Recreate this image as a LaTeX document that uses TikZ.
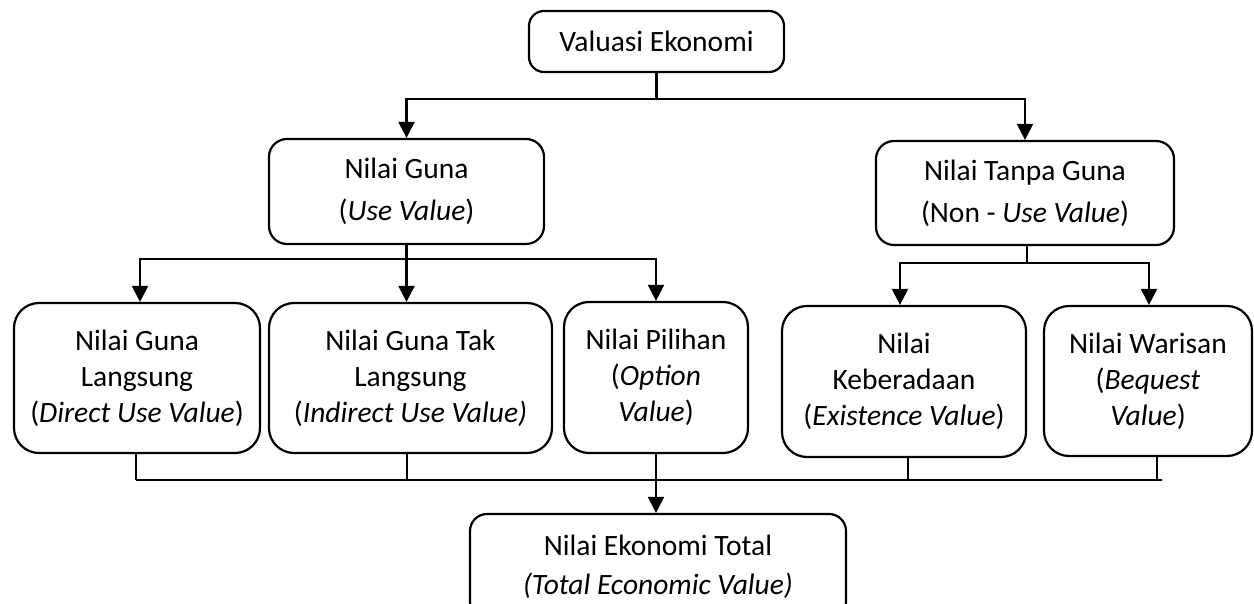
\documentclass[tikz,border=0pt]{standalone}
\usepackage{fontspec}
\setmainfont{Carlito}
\usetikzlibrary{arrows.meta}
\begin{document}
\begin{tikzpicture}[x=1pt,y=-1pt,
  box/.style={draw, line width=2.2pt, rounded corners=20pt, align=center, inner sep=0pt,
    font=\fontsize{29.5}{36}\selectfont},
  conn/.style={line width=2.2pt},
  arr/.style={line width=2.2pt, -{Triangle[width=16pt,length=16pt]}}]
\useasboundingbox (0,0) rectangle (1254,604);
\clip (0,0) rectangle (1254,604);
\fill[white] (0,0) rectangle (1254,604);
% nodes
\node[box, rounded corners=15pt, minimum width=255pt, minimum height=61pt] (top) at (656.5,41.5) {Valuasi Ekonomi};
\node[box, rounded corners=18pt, minimum width=275pt, minimum height=105pt,
  font=\fontsize{29.5}{42}\selectfont] (ng) at (406.5,191.5) {Nilai Guna\\(\textit{Use Value})};
\node[box, rounded corners=18pt, minimum width=298pt, minimum height=104pt,
  font=\fontsize{29.5}{42}\selectfont] (ntg) at (1025,193) {Nilai Tanpa Guna\\(Non - \textit{Use Value})};
\node[box, rounded corners=25pt, minimum width=246pt, minimum height=150pt] (b1) at (137,378) {Nilai Guna\\Langsung\\(\textit{Direct Use Value})};
\node[box, rounded corners=25pt, minimum width=283pt, minimum height=150pt] (b2) at (410.5,378) {Nilai Guna Tak\\Langsung\\(\textit{Indirect Use Value)}};
\node[box, rounded corners=25pt, minimum width=184pt, minimum height=151pt] (b3) at (656,377.5) {Nilai Pilihan\\(\textit{Option}\\\textit{Value})};
\node[box, rounded corners=25pt, minimum width=244pt, minimum height=151pt] (b4) at (904,381.5) {Nilai\\Keberadaan\\(\textit{Existence Value})};
\node[box, rounded corners=25pt, minimum width=208pt, minimum height=150pt] (b5) at (1148,381) {Nilai Warisan\\(\textit{Bequest}\\\textit{Value})};
\node[box, rounded corners=17pt, minimum width=376pt, minimum height=105pt,
  font=\fontsize{29.5}{39}\selectfont] (tot) at (658,566.5) {Nilai Ekonomi Total\\\textit{(Total Economic Value)}};
% junction levels
\coordinate (h1) at (0,99);
\coordinate (h2) at (0,259);
\coordinate (h3) at (0,263);
\coordinate (h4) at (0,480);
% top level
\draw[conn] (top.south) -- (top.south |- h1);
\draw[arr] (top.south |- h1) -| (ng.north);
\draw[arr] (top.south |- h1) -| (ntg.north);
% use value branch
\draw[conn] (ng.south) -- (ng.south |- h2);
\draw[arr] (ng.south |- h2) -| ([xshift=3pt]b1.north);
\draw[arr] (ng.south) -- (ng.south |- b2.north);
\draw[arr] (ng.south |- h2) -| (b3.north);
% non-use value branch
\draw[conn] ([xshift=2pt]ntg.south) -- ([xshift=2pt]ntg.south |- h3);
\draw[arr] ([xshift=2pt]ntg.south |- h3) -| ([xshift=-4pt]b4.north);
\draw[arr] ([xshift=2pt]ntg.south |- h3) -| ([xshift=1pt]b5.north);
% collection to total
\draw[conn] ([xshift=-1pt]b1.south) -- ([xshift=-1pt]b1.south |- h4);
\draw[conn] ([xshift=-3.5pt]b2.south) -- ([xshift=-3.5pt]b2.south |- h4);
\draw[conn] ([xshift=4pt]b4.south) -- ([xshift=4pt]b4.south |- h4);
\draw[conn] ([xshift=9pt]b5.south) -- ([xshift=9pt]b5.south |- h4);
\draw[conn] ([xshift=-1pt]b1.south |- h4) -- ([xshift=14pt]b5.south |- h4);
\draw[arr] (b3.south) -- (b3.south |- tot.north);
\end{tikzpicture}
\end{document}
